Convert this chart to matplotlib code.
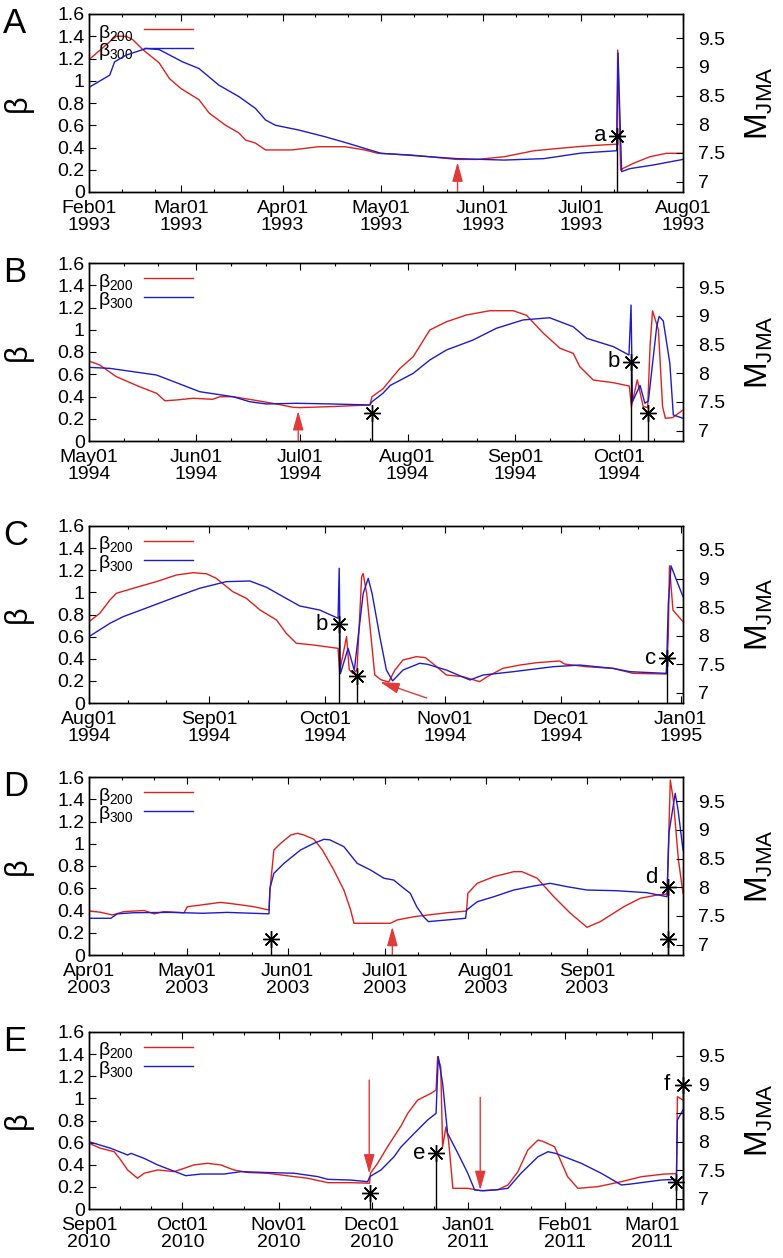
import datetime as dt
import numpy as np
import matplotlib
matplotlib.use("Agg")
import matplotlib.pyplot as plt
import matplotlib.dates as mdates

plt.rcParams['font.family'] = ['Liberation Sans', 'DejaVu Sans']
plt.rcParams['mathtext.fontset'] = 'custom'
plt.rcParams['mathtext.rm'] = 'Liberation Sans'
plt.rcParams['mathtext.it'] = 'Liberation Sans:italic'
plt.rcParams['mathtext.bf'] = 'Liberation Sans:bold'

# ---------------- data (day offsets from panel start, beta values) ----------------
panel_letters = ['A', 'B', 'C', 'D', 'E']
panel_starts = ['1993-02-01', '1994-05-01', '1994-08-01', '2003-04-01', '2010-09-01']
panel_spans = [181.0, 171.5, 153.6, 182.5, 191.0]   # x range length in days

A_red = [(0, 1.19), (6.3, 1.35), (8.3, 1.40), (11.3, 1.40), (13.3, 1.37), (16.4, 1.28), (21.4, 1.16),
         (24.5, 1.02), (28, 0.93), (33.5, 0.83), (36.6, 0.71), (41.6, 0.60), (45.7, 0.53), (47.7, 0.467),
         (50.7, 0.44), (53.8, 0.378), (61.8, 0.378), (69.9, 0.407), (78, 0.407), (84, 0.378), (88, 0.348),
         (98, 0.333), (112, 0.293), (118.4, 0.293), (126.5, 0.317), (135.6, 0.371), (148.7, 0.407),
         (154.8, 0.42), (160.8, 0.43), (161.1, 1.276), (162.0, 0.198), (162.8, 0.213), (165.9, 0.258),
         (170.9, 0.317), (176, 0.348), (181, 0.348)]
A_blue = [(0, 0.94), (6.3, 1.05), (7.8, 1.17), (11.3, 1.23), (17.4, 1.29), (21.4, 1.28), (28.5, 1.17),
          (33.5, 1.11), (39.6, 0.96), (45.7, 0.857), (50.7, 0.752), (53.8, 0.647), (56.8, 0.60), (63.9, 0.557),
          (71.9, 0.497), (79, 0.437), (84, 0.392), (89, 0.348), (101, 0.323), (112, 0.30), (126.5, 0.287),
          (138.6, 0.30), (150, 0.35), (160.8, 0.371), (161.2, 1.25), (162.3, 0.183), (164.8, 0.21),
          (172, 0.243), (181, 0.293)]

B_red = [(0, 0.719), (3.1, 0.683), (7.9, 0.578), (14.6, 0.488), (19.5, 0.429), (21.9, 0.362), (25, 0.368),
         (30, 0.384), (35.7, 0.375), (37.8, 0.398), (41.6, 0.398), (47.4, 0.369), (54.1, 0.333),
         (58.9, 0.303), (60.8, 0.30), (70.5, 0.31), (81.1, 0.324), (81.7, 0.398), (84.9, 0.47),
         (87.8, 0.58), (89.7, 0.65), (93.6, 0.758), (98.4, 0.998), (103.2, 1.072), (109, 1.133),
         (115.7, 1.171), (122.5, 1.171), (126.3, 1.13), (131.2, 0.968), (136, 0.833), (139.8, 0.788),
         (141.7, 0.668), (145.6, 0.548), (151.4, 0.524), (156.0, 0.494), (156.6, 0.31), (158.3, 0.55),
         (160.0, 0.31), (161.3, 0.30), (162.0, 0.86), (162.7, 1.17), (164.4, 1.0), (165.6, 0.31),
         (166.4, 0.204), (168.5, 0.21), (171.5, 0.279)]
B_blue = [(0, 0.662), (6, 0.653), (19.5, 0.593), (32, 0.443), (41.6, 0.398), (46.4, 0.353), (51.2, 0.333),
          (60, 0.339), (70, 0.333), (81.1, 0.324), (81.7, 0.353), (84.9, 0.43), (87, 0.50), (93.6, 0.608),
          (98.4, 0.728), (103.2, 0.818), (110.9, 0.908), (117.6, 1.013), (125.3, 1.088), (133, 1.108),
          (136, 1.072), (139.8, 1.027), (143.7, 0.923), (151.4, 0.848), (155.9, 0.773), (156.5, 1.222),
          (156.9, 0.353), (159.1, 0.50), (160.5, 0.339), (161.5, 0.36), (163.9, 1.027), (164.6, 1.12),
          (165.8, 1.08), (167.7, 0.698), (168.7, 0.234), (171.5, 0.204)]

C_red = [(0, 0.735), (2.8, 0.811), (5.4, 0.931), (7.1, 0.992), (11.4, 1.037), (17.4, 1.097), (22.6, 1.157),
         (26.9, 1.178), (30.4, 1.168), (32.9, 1.127), (37.2, 1.006), (40.7, 0.946), (44.2, 0.841),
         (48.5, 0.75), (51, 0.63), (53.6, 0.54), (57.9, 0.525), (64.4, 0.494), (64.8, 0.283), (66.6, 0.60),
         (67.3, 0.30), (68.3, 0.265), (69.3, 0.30), (70.5, 1.142), (70.9, 1.17), (71.8, 0.99), (73, 0.57),
         (73.9, 0.253), (75.5, 0.21), (77.5, 0.19), (79.1, 0.298), (81.2, 0.389), (84.7, 0.419), (87, 0.41),
         (89.9, 0.328), (92.4, 0.253), (96.7, 0.238), (101, 0.193), (103, 0.238), (107, 0.313),
         (111.4, 0.343), (115.7, 0.364), (121.7, 0.38), (123, 0.352), (128.7, 0.328), (135.5, 0.313),
         (140.7, 0.268), (149.3, 0.262), (149.8, 0.6), (150.1, 1.24), (151, 0.84), (153.6, 0.735)]
C_blue = [(0, 0.60), (5.4, 0.72), (8.8, 0.78), (15.7, 0.87), (22.6, 0.961), (28.6, 1.037), (35.5, 1.097),
          (41.6, 1.103), (45.9, 1.046), (50.2, 0.961), (54.5, 0.877), (59.7, 0.84), (64.4, 0.766),
          (64.7, 1.218), (65.0, 0.265), (67, 0.494), (68.6, 0.295), (70.9, 0.99), (72.2, 1.127), (73.2, 0.99),
          (75.2, 0.60), (76.9, 0.298), (78.5, 0.20), (81.2, 0.298), (85.5, 0.359), (87.5, 0.35),
          (92.4, 0.298), (98.5, 0.208), (101.9, 0.253), (109.7, 0.283), (120, 0.328), (126.9, 0.343),
          (135.5, 0.313), (139.9, 0.283), (149.3, 0.268), (149.8, 0.9), (150.5, 1.24), (151.9, 1.112),
          (153.6, 0.961)]

D_red = [(0, 0.396), (3.6, 0.384), (7.2, 0.36), (10.7, 0.39), (16.9, 0.40), (20, 0.37), (23, 0.39),
         (29.2, 0.38), (30.2, 0.434), (34.3, 0.449), (40.4, 0.473), (44.5, 0.459), (50.7, 0.434),
         (55.3, 0.404), (55.6, 0.584), (56.8, 0.944), (58.9, 1.004), (62, 1.079), (64, 1.094), (66, 1.079),
         (69.1, 1.04), (71.7, 0.944), (75.2, 0.764), (78.3, 0.584), (80.4, 0.404), (81.4, 0.285),
         (92.6, 0.285), (94.7, 0.315), (99.8, 0.344), (110, 0.38), (116, 0.395), (116.4, 0.555),
         (119.3, 0.645), (124.4, 0.704), (130.5, 0.749), (133, 0.749), (137.7, 0.69), (142.8, 0.524),
         (147.9, 0.375), (153, 0.249), (157.1, 0.30), (164.3, 0.434), (169.4, 0.51), (174.5, 0.539),
         (177.6, 0.548), (178.6, 1.573), (179.5, 1.40), (181.1, 0.854), (182.5, 0.555)]
D_blue = [(0, 0.33), (6.7, 0.33), (8.7, 0.37), (13.8, 0.38), (25, 0.383), (35, 0.375), (42.5, 0.383),
          (55.3, 0.37), (55.6, 0.60), (56.8, 0.734), (59.9, 0.824), (65, 0.944), (69.1, 1.004),
          (72.2, 1.04), (74, 1.035), (78.3, 0.974), (82.4, 0.824), (86.5, 0.764), (90.6, 0.69),
          (93.6, 0.674), (96.7, 0.60), (98.7, 0.555), (100.7, 0.434), (102.8, 0.344), (104.3, 0.30),
          (110, 0.315), (115.7, 0.33), (116, 0.404), (119.3, 0.479), (124.4, 0.524), (130.5, 0.584),
          (136.6, 0.62), (141.7, 0.644), (146.9, 0.614), (153, 0.584), (162, 0.578), (171.4, 0.56),
          (177.6, 0.524), (178.2, 1.10), (180.1, 1.453), (181, 1.30), (182.5, 0.944)]

E_red = [(0, 0.594), (3.7, 0.549), (8.1, 0.518), (10.2, 0.443), (12.4, 0.353), (15.6, 0.278),
         (17.7, 0.323), (22.1, 0.353), (27.4, 0.338), (30.6, 0.368), (33.7, 0.398), (38.1, 0.413),
         (42.4, 0.398), (46.6, 0.353), (51, 0.33), (57.4, 0.323), (63.9, 0.30), (70.3, 0.278),
         (76.8, 0.238), (84.2, 0.238), (90.2, 0.233), (90.5, 0.323), (92.8, 0.413), (96, 0.563),
         (100.3, 0.75), (102.5, 0.865), (105.7, 0.985), (110, 1.046), (111.6, 1.076), (112.1, 1.377),
         (113.1, 1.285), (113.7, 0.563), (114.8, 0.744), (115.6, 0.624), (117, 0.187), (121.8, 0.187),
         (126, 0.165), (131.5, 0.175), (134.7, 0.217), (137.9, 0.337), (141.1, 0.533), (144.4, 0.624),
         (146.1, 0.609), (149.7, 0.563), (153.9, 0.292), (157.2, 0.187), (163.6, 0.202), (171.2, 0.247),
         (177.6, 0.292), (185.1, 0.316), (188.9, 0.32), (189.2, 1.015), (191, 0.985)]
E_blue = [(0, 0.608), (7, 0.549), (12.4, 0.488), (13.5, 0.503), (17.7, 0.458), (22.1, 0.398),
          (26.3, 0.353), (31.1, 0.301), (36, 0.316), (43.4, 0.316), (48.9, 0.338), (57, 0.33), (66, 0.323),
          (73.5, 0.293), (76.8, 0.268), (84, 0.262), (89.6, 0.247), (90.3, 0.293), (93.9, 0.353),
          (98.1, 0.473), (100.3, 0.56), (104.6, 0.684), (108.9, 0.805), (111.6, 0.865), (112.3, 1.377),
          (113.7, 1.136), (115.3, 0.684), (118.6, 0.504), (121.8, 0.323), (124, 0.172), (127, 0.165),
          (131.5, 0.175), (134.7, 0.187), (138.9, 0.323), (144.4, 0.473), (147.6, 0.518), (150, 0.503),
          (158.3, 0.413), (164.7, 0.323), (171.2, 0.217), (174, 0.225), (184, 0.262), (188.9, 0.268),
          (189.2, 0.805), (191, 0.895)]

red_series = [A_red, B_red, C_red, D_red, E_red]
blue_series = [A_blue, B_blue, C_blue, D_blue, E_blue]

# earthquakes: (day offset, M_JMA, label)
A_events = [(161.0, 7.8, 'a')]
B_events = [(81.8, 7.3, ''), (156.4, 8.2, 'b'), (161.3, 7.3, '')]
C_events = [(64.6, 8.2, 'b'), (69.3, 7.3, ''), (149.5, 7.6, 'c')]
D_events = [(55.8, 7.1, ''), (177.8, 8.0, 'd'), (177.8, 7.1, '')]
E_events = [(90.4, 7.1, ''), (111.6, 7.8, 'e'), (188.9, 7.3, ''), (191.0, 9.0, 'f')]
events = [A_events, B_events, C_events, D_events, E_events]

# red arrows: (tail day, tail beta, tip day, tip beta)
A_arrows = [(112.3, 0.0, 112.3, 0.267)]
B_arrows = [(60.4, 0.0, 60.4, 0.27)]
C_arrows = [(87.3, 0.045, 75.3, 0.19)]
D_arrows = [(93.2, 0.0, 93.2, 0.254)]
E_arrows = [(90.1, 1.166, 90.1, 0.32), (125.8, 1.01, 125.8, 0.17)]
arrows = [A_arrows, B_arrows, C_arrows, D_arrows, E_arrows]

beta_ticks = [0, 0.2, 0.4, 0.6, 0.8, 1.0, 1.2, 1.4, 1.6]
beta_ticklabels = ['0', '0.2', '0.4', '0.6', '0.8', '1', '1.2', '1.4', '1.6']
mag_ticks = [7, 7.5, 8, 8.5, 9, 9.5]
mag_ticklabels = ['7', '7.5', '8', '8.5', '9', '9.5']
legend_labels = [r'β$_{200}$', r'β$_{300}$']

# ---------------- style ----------------
RED = '#e0201c'
BLUE = '#1c1ccc'
ARROW_RED = '#e23a3a'
W, H = 783, 1258
ax_left_px, ax_right_px = 89, 683
panel_px = [(14, 192), (263, 441), (526, 703), (777, 955), (1032, 1209)]
BETA_LIM = (0, 1.6)
MAG_LIM = (6.82, 9.92)
TICK_FS = 14

fig = plt.figure(figsize=(W / 100, H / 100), dpi=100)


def to_num(start, days):
    base = mdates.date2num(dt.datetime.strptime(start, '%Y-%m-%d'))
    return base + np.asarray(days, dtype=float)


for i in range(5):
    top, bot = panel_px[i]
    rect = [ax_left_px / W, 1 - bot / H, (ax_right_px - ax_left_px) / W, (bot - top) / H]
    ax = fig.add_axes(rect)
    ax2 = ax.twinx()
    start = panel_starts[i]

    rd, rv = zip(*red_series[i])
    bd, bv = zip(*blue_series[i])
    ax.plot(to_num(start, rd), rv, color=RED, lw=1.0, zorder=3)
    ax.plot(to_num(start, bd), bv, color=BLUE, lw=1.0, zorder=4)

    x0 = to_num(start, 0)
    ax.set_xlim(x0, to_num(start, panel_spans[i]))
    ax.set_ylim(*BETA_LIM)
    ax.set_yticks(beta_ticks)
    ax.set_yticklabels(beta_ticklabels)
    ax2.set_ylim(*MAG_LIM)
    ax2.set_yticks(mag_ticks)
    ax2.set_yticklabels(mag_ticklabels)

    ax.xaxis.set_major_locator(mdates.MonthLocator())
    ax.xaxis.set_major_formatter(mdates.DateFormatter('%b%d\n%Y'))
    ax.xaxis.set_minor_locator(mdates.DayLocator(bymonthday=[11, 21]))
    ax.tick_params(axis='x', which='major', direction='in', length=5, width=0.8, top=True,
                   labelsize=TICK_FS, pad=6)
    ax.tick_params(axis='x', which='minor', direction='in', length=2.5, width=0.8, top=True)
    ax.tick_params(axis='y', direction='in', length=5, width=0.8, labelsize=TICK_FS, pad=3)
    ax2.tick_params(axis='y', direction='in', length=5, width=0.8, labelsize=TICK_FS, pad=11)
    for lab in ax.get_xticklabels():
        lab.set_multialignment('center')
        lab.set_linespacing(1.0)
    for a in (ax, ax2):
        for s in a.spines.values():
            s.set_linewidth(1.0)

    # events
    for d, m, lab in events[i]:
        xd = to_num(start, d)
        ax2.vlines(xd, MAG_LIM[0], m, color='black', lw=1.0, zorder=5, clip_on=False)
        ax2.plot([xd], [m], marker=(8, 2, 0), ms=12, mew=1.0, color='black', zorder=6, clip_on=False)
        if lab:
            dy = 7 if lab == 'd' else 0
            ax2.annotate(lab, (xd, m), xytext=(-12, dy), textcoords='offset points',
                         ha='center', va='center', fontsize=16, zorder=7)

    # red arrows
    for td, tb, hd, hb in arrows[i]:
        ax.annotate('', xy=(to_num(start, hd), hb), xytext=(to_num(start, td), tb),
                    arrowprops=dict(arrowstyle='-|>,head_length=0.9,head_width=0.25',
                                    mutation_scale=13, color=ARROW_RED, lw=1.0,
                                    shrinkA=0, shrinkB=0), zorder=8)

    # key
    for k, (lab, col) in enumerate(zip(legend_labels, [RED, BLUE])):
        yk = 0.905 - 0.105 * k
        ax.text(0.015, yk - 0.012, lab, transform=ax.transAxes, fontsize=TICK_FS, ha='left', va='center')
        ax.plot([0.092, 0.175], [yk + 0.01, yk + 0.01], transform=ax.transAxes, color=col, lw=1.0)

    # labels
    yc = 1 - (top + bot) / 2 / H
    fig.text(18 / W, yc, 'β', rotation=90, ha='center', va='center', fontsize=22)
    fig.text(759 / W, yc, r'M$_{\mathrm{JMA}}$', rotation=90, ha='center', va='center', fontsize=23)
    fig.text(3 / W, 1 - (top + 19) / H, panel_letters[i], ha='left', va='baseline', fontsize=25)

fig.savefig('out.png', dpi=100)
